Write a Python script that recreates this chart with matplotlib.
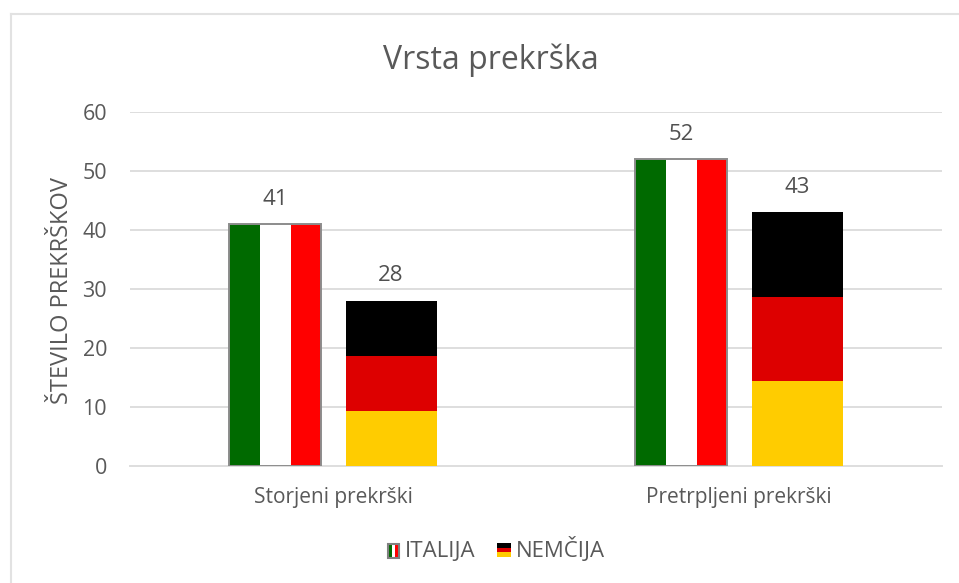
import matplotlib
matplotlib.use('Agg')
import matplotlib.pyplot as plt
from matplotlib.patches import Rectangle

categories = ['Storjeni prekrški', 'Pretrpljeni prekrški']
italija = [41, 52]
nemcija = [28, 43]
yticks = [0, 10, 20, 30, 40, 50, 60]
flag_it = ['#006a00', '#ffffff', '#ff0000']
flag_de = ['#ffcc00', '#dd0000', '#000000']

plt.rcParams['font.family'] = ['Open Sans', 'DejaVu Sans']
W, H = 959, 583
grey = '#595959'

fig = plt.figure(figsize=(W / 100, H / 100), dpi=100)
ax = fig.add_axes([130 / W, 1 - 465.5 / H, 812 / W, 353.5 / H])


def it_bar(x, w, h):
    # three vertical stripes
    for i, c in enumerate(flag_it):
        ax.bar(x - w / 2 + w * i / 3, h, w / 3, align='edge', color=c, zorder=3)
    ax.bar(x, h, w, fill=False, edgecolor='#8c8c8c', linewidth=1.4, zorder=4)


def de_bar(x, w, h):
    # three horizontal stripes
    for i, c in enumerate(flag_de):
        ax.bar(x, h / 3, w, bottom=h * i / 3, color=c, zorder=3)


for i in range(len(categories)):
    it_bar(i - 0.142, 0.227, italija[i])
    de_bar(i + 0.143, 0.224, nemcija[i])
    ax.text(i - 0.142, italija[i] + 4.2, str(italija[i]), ha='center', va='center',
            fontsize=16, color='#505050')
    ax.text(i + 0.143, nemcija[i] + 4.2, str(nemcija[i]), ha='center', va='center',
            fontsize=16, color='#505050')

ax.set_xlim(-0.5, 1.5)
ax.set_ylim(0, 60)
ax.set_yticks(yticks)
ax.set_xticks(range(len(categories)))
ax.set_xticklabels(categories)
ax.tick_params(axis='y', length=0, labelsize=15.5, labelcolor=grey, pad=16.5)
ax.tick_params(axis='x', length=0, labelsize=15, labelcolor=grey, pad=15.5)
ax.grid(axis='y', color='#dedede', linewidth=1.4, zorder=0)
ax.set_axisbelow(True)
for s in ['top', 'left', 'right']:
    ax.spines[s].set_visible(False)
ax.spines['bottom'].set_color('#dedede')
ax.spines['bottom'].set_linewidth(1.4)

fig.text(62 / W, 1 - 291 / H, 'ŠTEVILO PREKRŠKOV', rotation=90, ha='center', va='center',
         fontsize=17, color=grey)
fig.text(491 / W, 1 - 60.5 / H, 'Vrsta prekrška', ha='center', va='center',
         fontsize=23, color=grey)

# legend: tiny flags and labels, in figure pixels
lax = fig.add_axes([0, 0, 1, 1])
lax.set_xlim(0, W)
lax.set_ylim(H, 0)
lax.axis('off')
for i, c in enumerate(flag_it):
    lax.add_patch(Rectangle((388 + i * 3.7, 544), 3.7, 14, color=c, lw=0))
lax.add_patch(Rectangle((388, 544), 11, 14, fill=False, ec='#808080', lw=1.5))
for i, c in enumerate(flag_de[::-1]):
    lax.add_patch(Rectangle((496.5, 543 + i * 4.7), 14.5, 4.7, color=c, lw=0))
lax.text(405, 557, 'ITALIJA', ha='left', va='baseline', fontsize=16, color=grey)
lax.text(516, 557, 'NEMČIJA', ha='left', va='baseline', fontsize=16, color=grey)

# chart frame
lax.plot([11, 11], [583, 14], color='#e2e2e2', lw=1.5)
lax.plot([11, 959], [14, 14], color='#e2e2e2', lw=1.5)

fig.savefig('out.png', dpi=100)
